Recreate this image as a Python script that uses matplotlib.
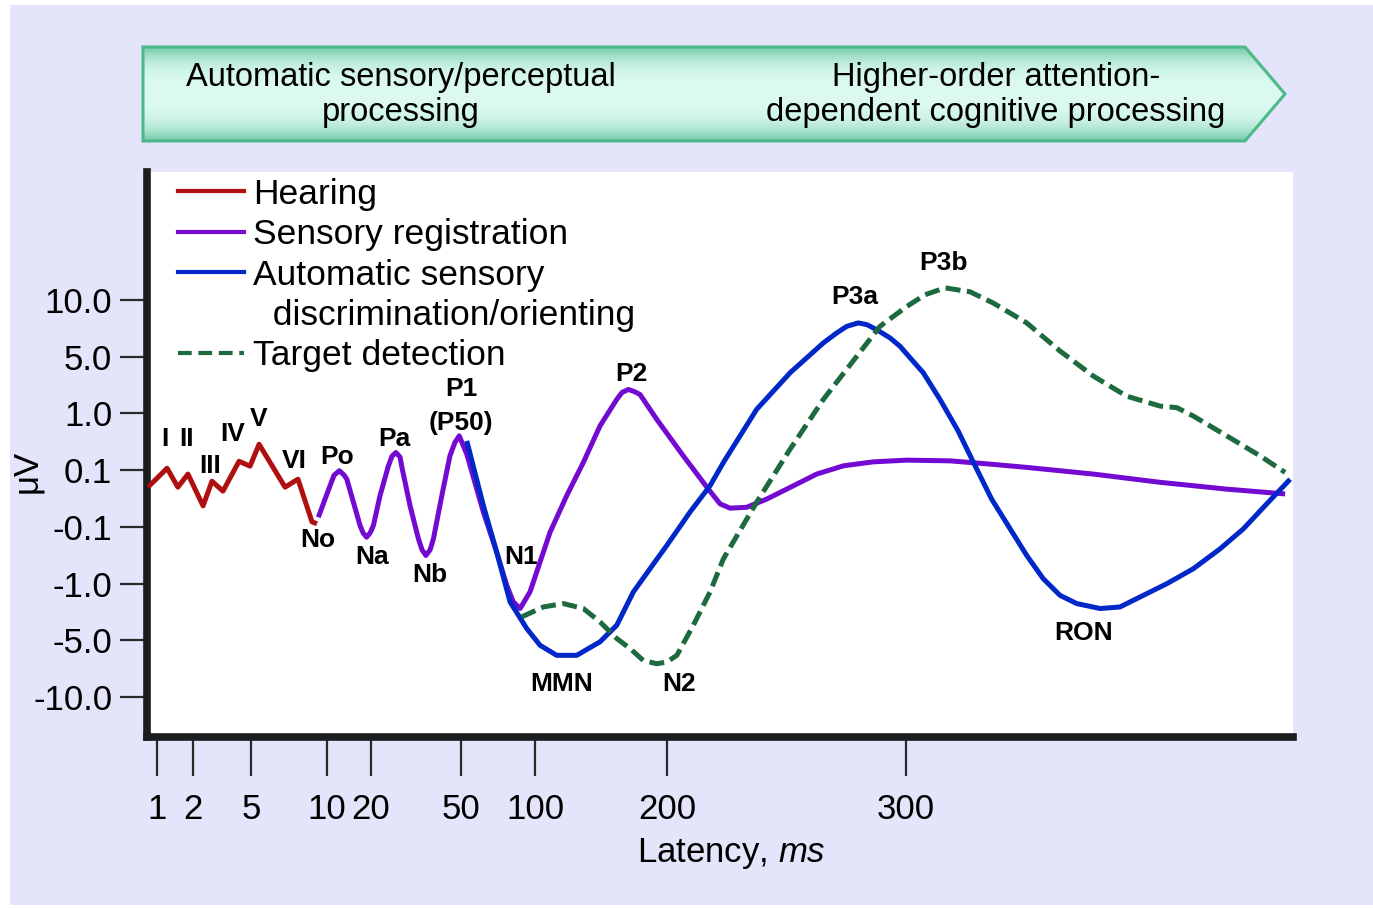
import numpy as np
import matplotlib
matplotlib.use('Agg')
import matplotlib.pyplot as plt
from matplotlib.lines import Line2D
from matplotlib.patches import Polygon, Rectangle
from matplotlib.ticker import NullLocator

plt.rcParams['font.family'] = ['Liberation Sans', 'DejaVu Sans']
plt.rcParams['mathtext.fontset'] = 'custom'
plt.rcParams['mathtext.it'] = 'Liberation Sans:italic'
plt.rcParams['mathtext.rm'] = 'Liberation Sans'

# ---- data (latency in ms, amplitude in microvolts) ----
x_ticks = [1, 2, 5, 10, 20, 50, 100, 200, 300]
y_ticks = [-10.0, -5.0, -1.0, -0.1, 0.1, 1.0, 5.0, 10.0]
y_ticklabels = ['-10.0', '-5.0', '-1.0', '-0.1', '0.1', '1.0', '5.0', '10.0']

hearing_ms = [0.75, 1.28, 1.58, 1.86, 2.52, 2.98, 3.55, 4.38, 4.95, 5.53, 7.24, 8.09, 9.01, 9.34]
hearing_uv = [0.04, 0.13, 0.04, 0.086, -0.026, 0.061, 0.026, 0.24, 0.163, 0.51, 0.04, 0.068, -0.082, -0.089]

registration_ms = [9.43, 9.87, 11.1, 11.6, 12.8, 13.9, 14.5, 16.0, 17.5, 18.2, 19.0, 19.8, 20.8, 23.0,
                   25.8, 27.0, 28.3, 29.7, 30.2, 33.0, 35.8, 37.0, 38.3, 39.7, 40.8, 43.6, 46.3, 48.0,
                   49.4, 53.9, 65.1, 74.1, 80.9, 85.3, 89.9, 96.6, 111.4, 124.0, 136.6, 149.2, 161.9,
                   165.9, 170.7, 175.0, 179.5, 192.2, 206.8, 217.3, 222.2, 226.4, 233.3, 241.7,
                   251.5, 262.6, 273.8, 286.3, 300.3, 318.4, 335.1, 350.5, 378.4, 406.3, 434.2, 458.6]
registration_uv = [-0.066, -0.002, 0.062, 0.082, 0.098, 0.082, 0.068, -0.013, -0.095, -0.195, -0.263,
                   -0.195, -0.095, 0.010, 0.168, 0.321, 0.379, 0.305, 0.168, -0.025, -0.289, -0.463,
                   -0.553, -0.463, -0.289, 0.010, 0.326, 0.542, 0.642, 0.353, -0.048, -0.500, -1.12,
                   -2.28, -2.75, -1.58, -0.184, 0.010, 0.222, 0.80, 1.98, 2.47, 2.68, 2.54, 2.33,
                   0.905, 0.326, 0.033, -0.019, -0.034, -0.031, -0.002, 0.039, 0.086, 0.168, 0.231,
                   0.258, 0.247, 0.195, 0.143, 0.086, 0.057, 0.033, 0.016]

discrimination_ms = [53.9, 65.1, 74.1, 83.1, 94.4, 103.8, 116.4, 131.6, 149.2, 161.9, 174.5, 187.1,
                     199.8, 209.6, 218.0, 223.6, 237.5, 251.5, 265.4, 271.0, 275.2, 280.0, 283.6,
                     287.7, 293.3, 297.5, 301.7, 307.2, 314.2, 321.8, 328.2, 335.8, 350.5, 357.4,
                     364.4, 371.4, 381.2, 389.5, 399.3, 409.1, 420.2, 431.4, 441.1, 450.9, 460.7]
discrimination_uv = [0.563, -0.025, -0.500, -2.28, -4.16, -5.42, -6.31, -6.31, -5.12, -3.93, -1.58,
                     -0.763, -0.395, -0.048, 0.045, 0.222, 1.28, 3.86, 6.20, 7.08, 7.66, 7.96, 7.81,
                     7.37, 6.64, 5.90, 4.91, 3.86, 1.98, 0.72, 0.222, -0.002, -0.553, -0.921, -1.82,
                     -2.40, -2.75, -2.64, -1.82, -1.0, -0.763, -0.447, -0.132, -0.019, 0.068]

detection_ms = [91.0, 106.3, 121.4, 136.6, 149.2, 161.9, 172.0, 182.0, 192.2, 199.8, 204.1, 211.0,
                218.0, 223.6, 237.5, 251.5, 265.4, 279.4, 289.1, 300.3, 307.9, 316.3, 326.8, 336.5,
                350.5, 364.4, 378.4, 392.3, 406.3, 413.3, 420.2, 434.2, 448.1, 458.6]
detection_uv = [-3.34, -2.64, -2.40, -2.75, -3.69, -4.86, -5.71, -6.76, -7.05, -6.90, -6.31, -3.93,
                -1.58, -0.605, -0.013, 0.432, 1.98, 5.03, 7.66, 9.41, 10.44, 11.05, 10.70, 9.71,
                7.96, 5.49, 3.62, 2.21, 1.51, 1.40, 0.957, 0.642, 0.326, 0.092]

# component names and where their labels sit (ms, uV)
peak_names = ['I', 'II', 'III', 'IV', 'V', 'VI', 'No', 'Po', 'Na', 'Pa', 'Nb', 'P1', '(P50)',
              'N1', 'P2', 'MMN', 'N2', 'P3a', 'P3b', 'RON']
peak_ms = [1.22, 1.81, 2.88, 4.07, 5.53, 7.83, 9.41, 12.3, 20.3, 27.7, 39.7, 50, 50,
           90.5, 172.7, 120.5, 205.0, 278.7, 315.5, 374.1]
peak_uv = [0.59, 0.59, 0.163, 0.668, 0.905, 0.24, -0.305, 0.305, -0.574, 0.59, -0.858, 2.68, 0.84,
           -0.574, 3.74, -8.84, -8.84, 10.26, 13.25, -4.44]

series_names = ['Hearing', 'Sensory registration', 'Automatic sensory',
                '  discrimination/orienting', 'Target detection']
banner_left = 'Automatic sensory/perceptual\nprocessing'
banner_right = 'Higher-order attention-\ndependent cognitive processing'

red = '#b00f0f'
purple = '#730ad2'
blue = '#0028c8'
green = '#1c6a3e'
lavender = '#e4e4fa'

# ---- nonlinear axis scales (piecewise, as in the schematic) ----
x_knots = [0.5, 1, 2, 5, 10, 20, 50, 100, 200, 300, 500]
x_pos = [139, 157, 193, 251, 327, 371, 461, 535, 667, 906, 1384]
y_knots = [-15, -10, -5, -1, -0.1, 0.1, 1, 5, 10, 25]
y_pos = [-1, 0, 1, 2, 3, 4, 5, 6, 7, 10]


def x_fwd(v):
    return np.interp(v, x_knots, x_pos)


def x_inv(p):
    return np.interp(p, x_pos, x_knots)


def y_fwd(v):
    return np.interp(v, y_knots, y_pos)


def y_inv(p):
    return np.interp(p, y_pos, y_knots)


W, H = 1373, 908
fig = plt.figure(figsize=(W / 100, H / 100), dpi=100, facecolor='white')
fig.add_artist(Rectangle((10 / W, 3 / H), 1, 1 - 8 / H, transform=fig.transFigure,
                         facecolor=lavender, edgecolor='none', zorder=-10))

# banner arrow on top
deco = fig.add_axes([0, 0, 1, 1])
deco.set_xlim(0, W)
deco.set_ylim(H, 0)
deco.axis('off')
deco.patch.set_alpha(0)
arrow = Polygon([(143, 47), (1245, 47), (1285, 94), (1245, 141), (143, 141)], closed=True,
                facecolor='none', edgecolor='#4cba88', lw=2.2, zorder=3)
deco.add_patch(arrow)
t = np.linspace(0, 1, 200)
d = np.abs(t - 0.5) * 2
prof = (d ** 3)[:, None]
c_mid = np.array([220, 250, 242]) / 255
c_edge = np.array([112, 200, 165]) / 255
grad = (c_mid * (1 - prof) + c_edge * prof)[:, None, :]
img = deco.imshow(grad, extent=(143, 1287, 141, 47), aspect='auto', zorder=2)
img.set_clip_path(arrow)
deco.text(401, 95, banner_left, ha='center', va='center', fontsize=23.5, linespacing=1.15, zorder=4)
deco.text(996, 95, banner_right, ha='center', va='center', fontsize=23.5, linespacing=1.15, zorder=4)

# main chart
ax = fig.add_axes([147 / W, (H - 737) / H, (1293 - 147) / W, (737 - 172) / H])
ax.set_facecolor('white')
ax.set_xscale('function', functions=(x_fwd, x_inv))
ax.set_yscale('function', functions=(y_fwd, y_inv))

style = dict(lw=3.6, solid_joinstyle='round', solid_capstyle='butt')
ax.plot(hearing_ms, hearing_uv, color=red, zorder=3, **style)
ax.plot(registration_ms, registration_uv, color=purple, zorder=3, **style)
ax.plot(discrimination_ms, discrimination_uv, color=blue, zorder=4, **style)
ax.plot(detection_ms, detection_uv, color=green, lw=3.6, dashes=(3.0, 1.3), zorder=5)

for name, px, py in zip(peak_names, peak_ms, peak_uv):
    ax.text(px, py, name, ha='center', va='center', fontsize=19, fontweight='bold', zorder=6)

ax.set_xlim(0.722, 461.9)
ax.set_ylim(-13.5, 21.25)
ax.set_xticks(x_ticks)
ax.set_xticklabels([str(v) for v in x_ticks])
ax.set_yticks(y_ticks)
ax.set_yticklabels(y_ticklabels)
ax.xaxis.set_minor_locator(NullLocator())
ax.yaxis.set_minor_locator(NullLocator())
ax.tick_params(axis='y', direction='out', length=19.5, width=1.6, color='#2a2a2a',
               labelsize=25, pad=5.5)
ax.tick_params(axis='x', direction='out', length=28, width=1.6, color='#2a2a2a',
               labelsize=25, pad=12)

for side in ['top', 'right']:
    ax.spines[side].set_visible(False)
for side in ['left', 'bottom']:
    ax.spines[side].set_linewidth(5.5)
    ax.spines[side].set_color('#1b1d1f')
    ax.spines[side].set_capstyle('projecting')

ax.set_ylabel('μV', fontsize=25)
ax.yaxis.set_label_coords((43 - 147) / 1146, (737 - 471) / 565)
ax.set_xlabel('Latency, $\\mathit{ms}$', fontsize=25)
ax.xaxis.set_label_coords((731 - 147) / 1146, (737 - 836) / 565)

handles = [Line2D([], [], color=red, lw=3),
           Line2D([], [], color=purple, lw=3),
           Line2D([], [], color=blue, lw=3),
           Line2D([], [], color='none', lw=3),
           Line2D([], [], color=green, lw=3, dashes=(3.3, 1.6))]
ax.legend(handles, series_names, loc='upper left', bbox_to_anchor=(0.027, 0.99), frameon=False,
          fontsize=25.5, handlelength=1.86, handletextpad=0.25, labelspacing=0.21,
          borderpad=0, borderaxespad=0)

fig.savefig('out.png', dpi=100, facecolor=fig.get_facecolor())
